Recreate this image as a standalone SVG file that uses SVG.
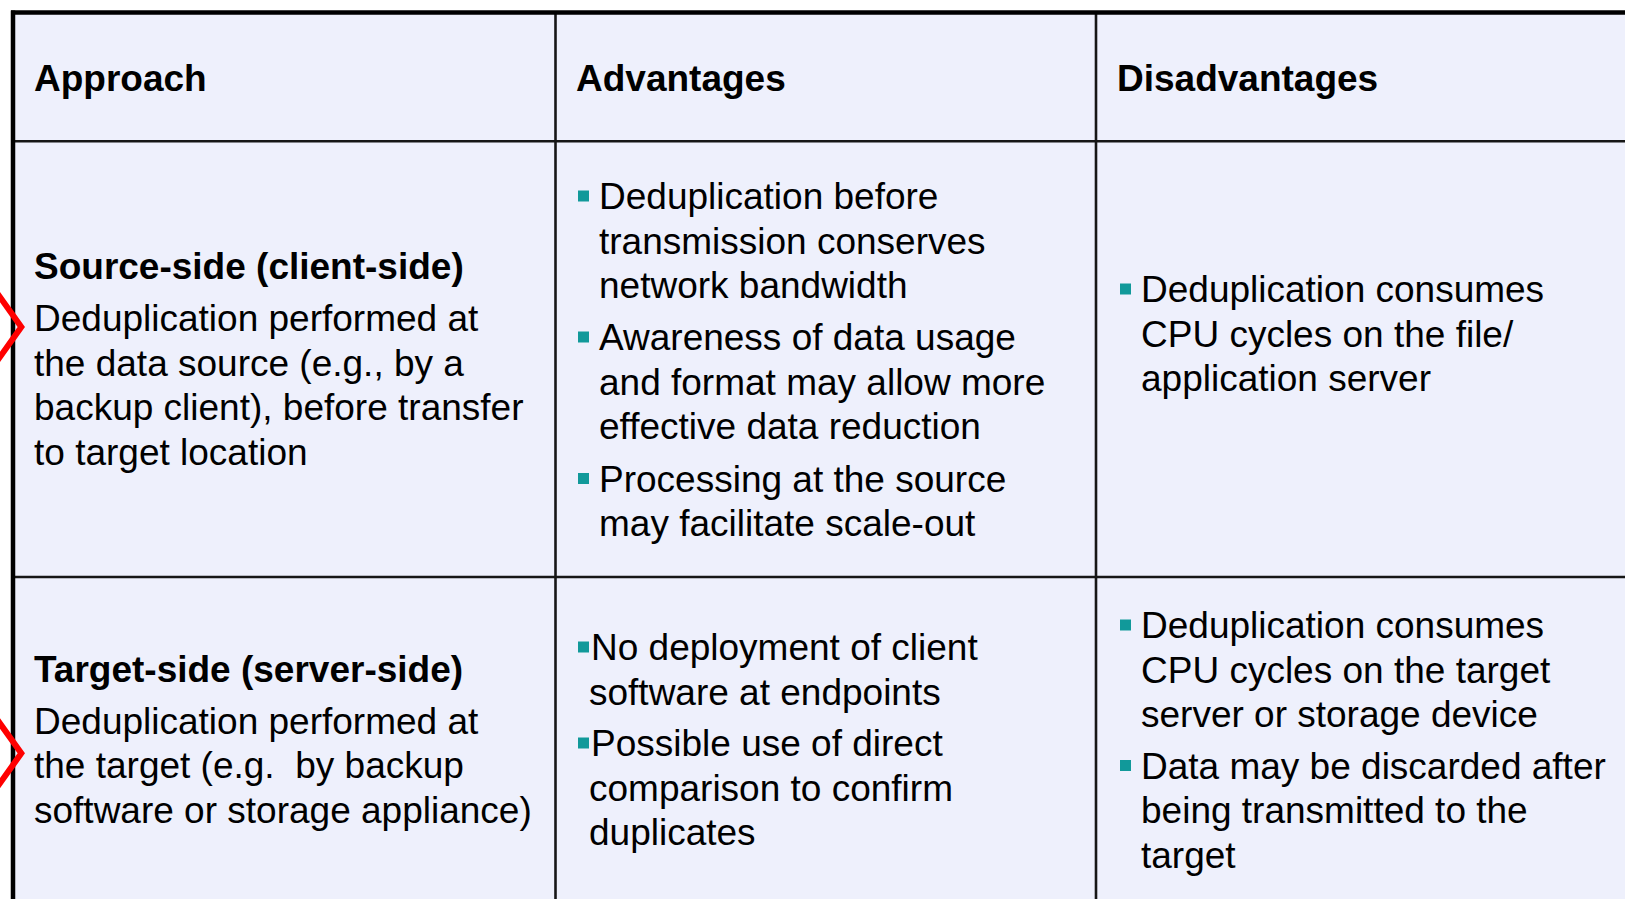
<svg xmlns="http://www.w3.org/2000/svg" width="1625" height="899" viewBox="0 0 1625 899">
  <style>
    .cell { fill: #eef0fc; }
    .rule { stroke: #161616; stroke-width: 2.6; fill: none; }
    .frame { stroke: #000; stroke-width: 4.5; fill: none; }
    .hd { font-family: "Liberation Sans", Arial, sans-serif; font-weight: bold; font-size: 37px; fill: #000; }
    .tx { font-family: "Liberation Sans", Arial, sans-serif; font-size: 37px; fill: #000; }
    .bul { fill: #11999a; }
    .mark { stroke: #ff0000; stroke-width: 6; fill: none; stroke-linejoin: miter; stroke-miterlimit: 10; }
  </style>

  <rect x="0" y="0" width="1625" height="899" fill="#ffffff"/>

  <!-- table body -->
  <rect class="cell" x="13" y="12" width="1620" height="895"/>

  <!-- grid lines -->
  <g id="grid">
    <line class="rule" x1="13" y1="141.3" x2="1625" y2="141.3"/>
    <line class="rule" x1="13" y1="577" x2="1625" y2="577"/>
    <line class="rule" x1="555.5" y1="12" x2="555.5" y2="899"/>
    <line class="rule" x1="1096" y1="12" x2="1096" y2="899"/>
    <line class="frame" x1="11" y1="12.5" x2="1625" y2="12.5"/>
    <line class="frame" x1="13" y1="10.5" x2="13" y2="899"/>
  </g>

  <!-- header row -->
  <g id="head-approach"><text class="hd" x="34" y="91">Approach</text></g>
  <g id="head-advantages"><text class="hd" x="576" y="91">Advantages</text></g>
  <g id="head-disadvantages"><text class="hd" x="1117" y="91">Disadvantages</text></g>

  <!-- source-side row -->
  <g id="source-approach">
    <text class="hd" x="34" y="279">Source-side (client-side)</text>
    <text class="tx" x="34" y="331">Deduplication performed at</text>
    <text class="tx" x="34" y="375.5">the data source (e.g., by a</text>
    <text class="tx" x="34" y="420">backup client), before transfer</text>
    <text class="tx" x="34" y="464.5">to target location</text>
  </g>
  <g id="source-advantages">
    <rect class="bul" x="578" y="190.5" width="11" height="11"/>
    <text class="tx" x="599" y="209">Deduplication before</text>
    <text class="tx" x="599" y="253.5">transmission conserves</text>
    <text class="tx" x="599" y="298">network bandwidth</text>
    <rect class="bul" x="578" y="331.5" width="11" height="11"/>
    <text class="tx" x="599" y="350">Awareness of data usage</text>
    <text class="tx" x="599" y="394.5">and format may allow more</text>
    <text class="tx" x="599" y="439">effective data reduction</text>
    <rect class="bul" x="578" y="473" width="11" height="11"/>
    <text class="tx" x="599" y="491.5">Processing at the source</text>
    <text class="tx" x="599" y="536">may facilitate scale-out</text>
  </g>
  <g id="source-disadvantages">
    <rect class="bul" x="1120" y="283.5" width="11" height="11"/>
    <text class="tx" x="1141" y="302">Deduplication consumes</text>
    <text class="tx" x="1141" y="346.5">CPU cycles on the file/</text>
    <text class="tx" x="1141" y="391">application server</text>
  </g>

  <!-- target-side row -->
  <g id="target-approach">
    <text class="hd" x="34" y="682">Target-side (server-side)</text>
    <text class="tx" x="34" y="733.5">Deduplication performed at</text>
    <text class="tx" x="34" y="778" xml:space="preserve">the target (e.g.  by backup</text>
    <text class="tx" x="34" y="822.5">software or storage appliance)</text>
  </g>
  <g id="target-advantages">
    <rect class="bul" x="578" y="641.5" width="11" height="11"/>
    <text class="tx" x="591" y="660">No deployment of client</text>
    <text class="tx" x="589" y="704.5">software at endpoints</text>
    <rect class="bul" x="578" y="737.5" width="11" height="11"/>
    <text class="tx" x="591" y="756">Possible use of direct</text>
    <text class="tx" x="589" y="800.5">comparison to confirm</text>
    <text class="tx" x="589" y="845">duplicates</text>
  </g>
  <g id="target-disadvantages">
    <rect class="bul" x="1120" y="619.5" width="11" height="11"/>
    <text class="tx" x="1141" y="638">Deduplication consumes</text>
    <text class="tx" x="1141" y="682.5">CPU cycles on the target</text>
    <text class="tx" x="1141" y="727">server or storage device</text>
    <rect class="bul" x="1120" y="760" width="11" height="11"/>
    <text class="tx" x="1141" y="778.5">Data may be discarded after</text>
    <text class="tx" x="1141" y="823">being transmitted to the</text>
    <text class="tx" x="1141" y="867.5">target</text>
  </g>

  <!-- red chevrons at the left margin -->
  <g id="markers">
    <polyline class="mark" points="-4,291.6 21.3,327 -4,362.4"/>
    <polyline class="mark" points="-4,717.9 21.3,753.3 -4,788.7"/>
  </g>
</svg>
